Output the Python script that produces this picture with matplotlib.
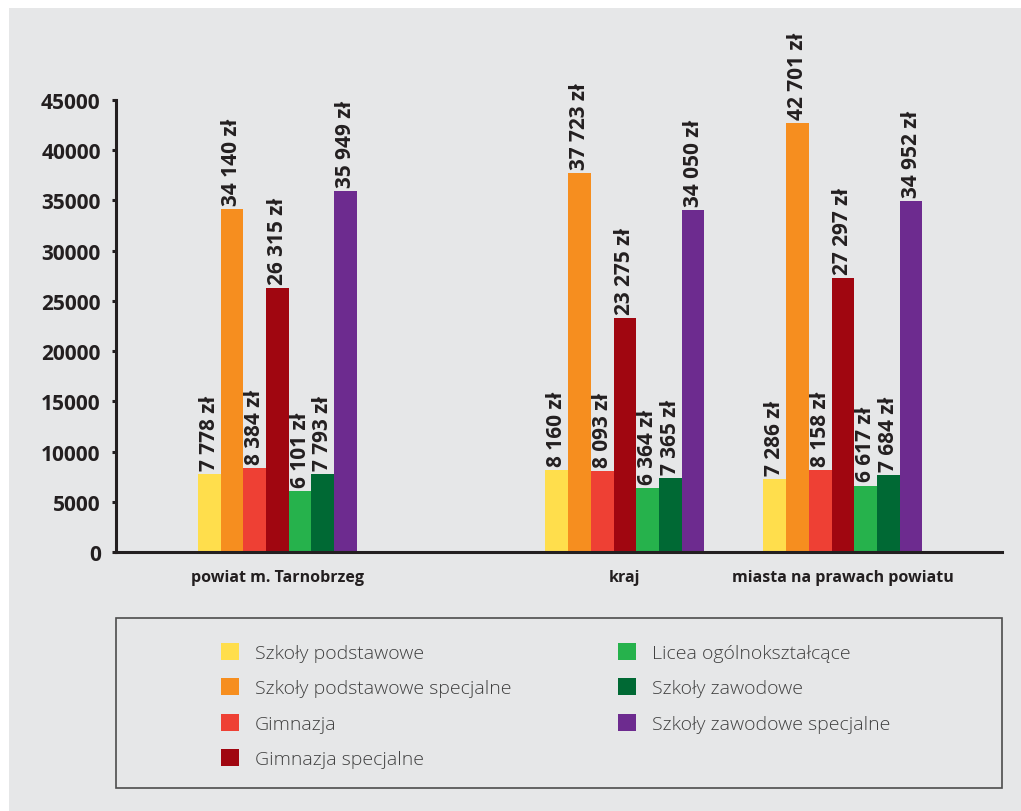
import matplotlib.pyplot as plt
from matplotlib.patches import Rectangle

# dane: wydatki na ucznia wg typu szkoły
regions = ['powiat m. Tarnobrzeg', 'kraj', 'miasta na prawach powiatu']
school_types = ['Szkoły podstawowe', 'Szkoły podstawowe specjalne', 'Gimnazja',
                'Gimnazja specjalne', 'Licea ogólnokształcące', 'Szkoły zawodowe',
                'Szkoły zawodowe specjalne']
szkoly_podstawowe = [7778, 8160, 7286]
szkoly_podstawowe_spec = [34140, 37723, 42701]
gimnazja = [8384, 8093, 8158]
gimnazja_spec = [26315, 23275, 27297]
licea = [6101, 6364, 6617]
szkoly_zawodowe = [7793, 7365, 7684]
szkoly_zawodowe_spec = [35949, 34050, 34952]
series = [szkoly_podstawowe, szkoly_podstawowe_spec, gimnazja, gimnazja_spec,
          licea, szkoly_zawodowe, szkoly_zawodowe_spec]
yticks = list(range(0, 45001, 5000))

colors = ['#FFDE4C', '#F68E1F', '#EE4034', '#A00610', '#26B24C', '#006934', '#6D2B8F']
group_pos = [7.1, 22.4, 32.0]
bar_w = 1.0
bg = '#E6E7E8'
dark = '#231F20'

W, H = 1021, 812
fig = plt.figure(figsize=(W / 100, H / 100), dpi=100)
fig.patch.set_facecolor('white')
fig.add_artist(Rectangle((9 / W, 0), 1, 1 - 9 / H, transform=fig.transFigure,
                         facecolor=bg, edgecolor='none', zorder=-5))

ax = fig.add_axes([116 / W, 1 - 553 / H, 886 / W, 452 / H])
ax.set_facecolor('none')

handles = []
for i, vals in enumerate(series):
    xs = [g + (i - 3) * bar_w for g in group_pos]
    b = ax.bar(xs, vals, width=bar_w, color=colors[i], label=school_types[i], zorder=2)
    handles.append(b)
    for x, v in zip(xs, vals):
        txt = f"{v:,}".replace(",", " ") + " zł"
        ax.annotate(txt, (x, v), xytext=(0, 3), textcoords='offset points',
                    rotation=90, ha='center', va='bottom', fontsize=15,
                    fontfamily='Open Sans', fontweight='bold', color=dark,
                    annotation_clip=False)

ax.set_xlim(0, 39)
ax.set_ylim(0, 45000)
ax.set_yticks(yticks)
ax.set_yticklabels([str(t) for t in yticks], fontsize=15, fontfamily='Open Sans',
                   fontweight='bold', color=dark)
ax.set_xticks(group_pos)
ax.set_xticklabels(regions, fontsize=11.5, fontfamily='Open Sans', fontweight='bold',
                   color=dark)
ax.tick_params(axis='y', length=3, width=2.2, color=dark, pad=8)
ax.tick_params(axis='x', length=0, pad=12)
for s in ['top', 'right']:
    ax.spines[s].set_visible(False)
for s in ['left', 'bottom']:
    ax.spines[s].set_linewidth(2.2)
    ax.spines[s].set_color(dark)

# ramka legendy
fig.add_artist(Rectangle((116 / W, 1 - 789 / H), 886 / W, 170 / H,
                         transform=fig.transFigure, fill=False,
                         edgecolor='#4D4D4D', linewidth=1.2))
leg = fig.legend(handles=handles, labels=school_types, ncol=2, loc='upper left',
                 bbox_to_anchor=(221 / W, 1 - 644 / H), frameon=False,
                 prop={'family': 'Open Sans', 'weight': 'light', 'size': 14},
                 handlelength=0.95, handleheight=0.95, handletextpad=0.8,
                 columnspacing=5.45, labelspacing=0.84, borderpad=0, borderaxespad=0)
for t in leg.get_texts():
    t.set_color('#404040')

plt.savefig('out.png', dpi=100, facecolor=fig.get_facecolor())
